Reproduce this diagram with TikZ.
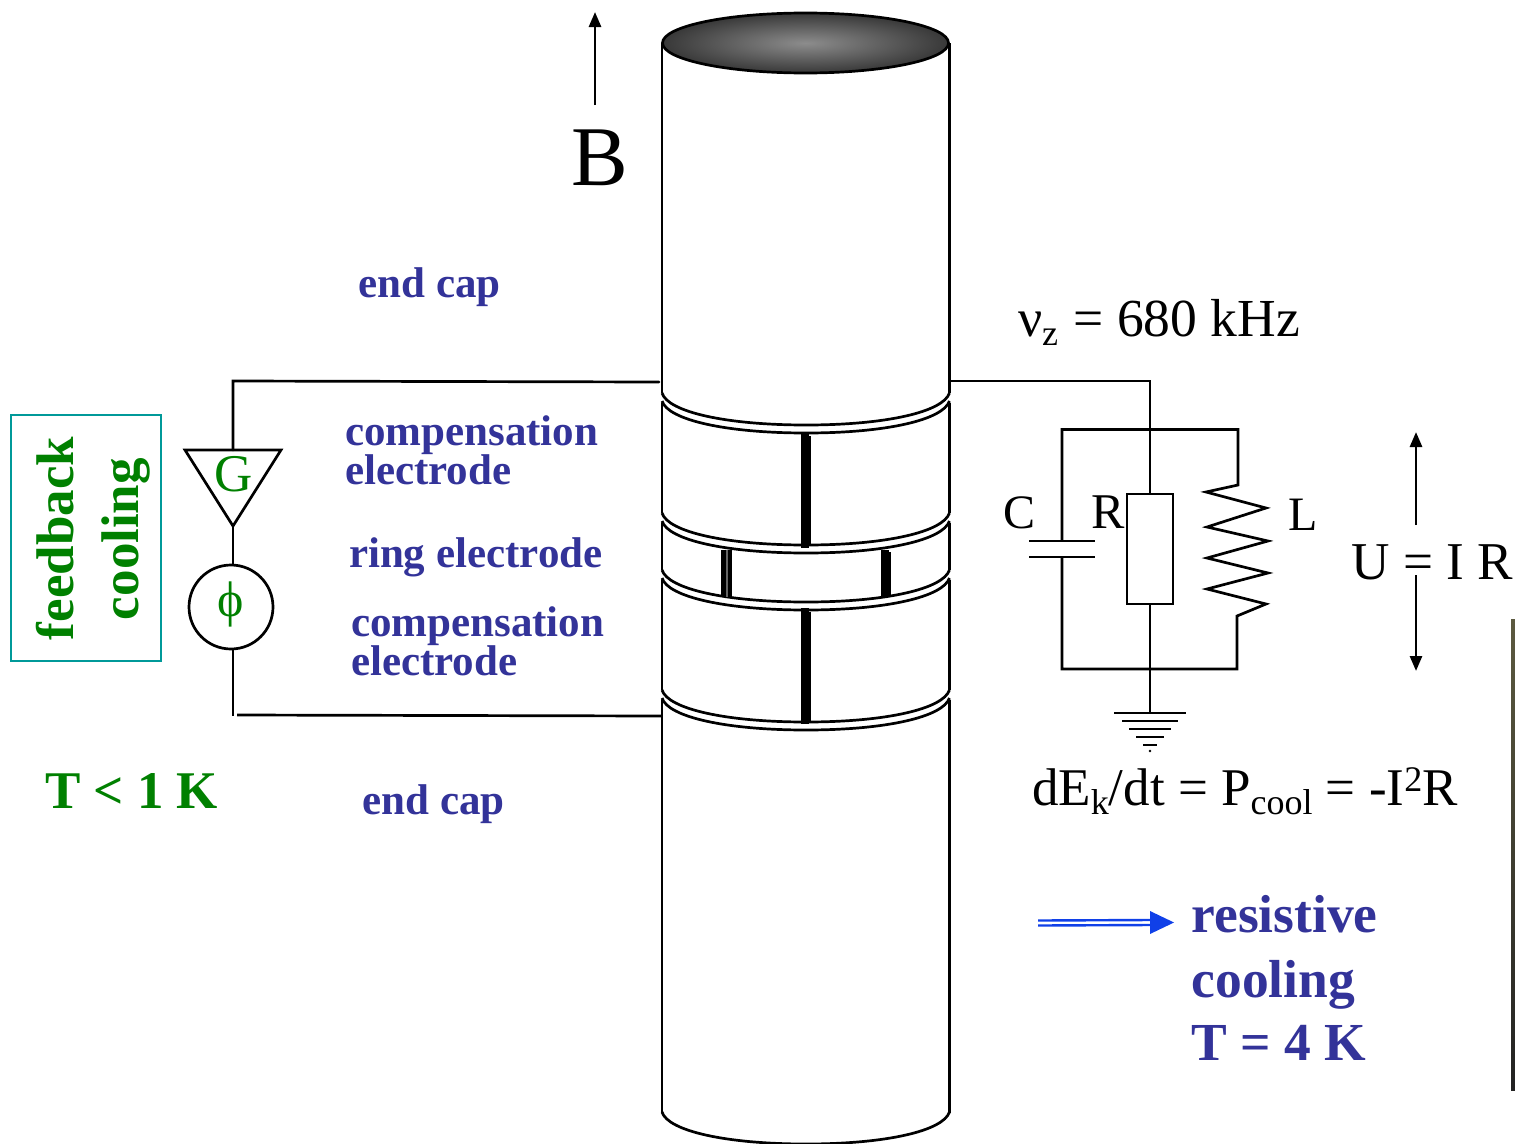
\documentclass[tikz,border=0pt]{standalone}
\usepackage{fontspec}
\setmainfont{Liberation Serif}
\usetikzlibrary{arrows.meta}
\definecolor{lblue}{HTML}{333399}
\definecolor{lgreen}{HTML}{008000}
\definecolor{lteal}{HTML}{009999}
\definecolor{arrowblue}{HTML}{1040E8}
\definecolor{stripa}{HTML}{5C5A40}
\definecolor{stripb}{HTML}{222222}
\newcommand{\fsz}[1]{\fontsize{#1}{#1}\selectfont}
\newcommand{\lowsub}[1]{\raisebox{-9pt}{\fsz{36}#1}}
\newcommand{\rimcurve}[1]{%
  \draw[wire] (662,#1) .. controls (668,#1+19) and (726,#1+32) .. (806,#1+32)
     .. controls (886,#1+32) and (943,#1+19) .. (949.5,#1);}
\tikzset{
  wire/.style={line width=2.7pt,line cap=butt,line join=miter},
  label/.style={inner sep=0pt,outer sep=0pt,anchor=base west},
  bluelabel/.style={label,font=\fsz{43}\bfseries,text=lblue},
  bigblue/.style={label,font=\fsz{53.5}\bfseries,text=lblue},
  greenlabel/.style={label,font=\fsz{53}\bfseries,text=lgreen},
  blacklabel/.style={label,font=\fsz{53.5}},
  partlabel/.style={label,font=\fsz{48}},
  arrowline/.style={wire,-{Triangle[length=15pt,width=12pt]}},
}
\begin{document}
\begin{tikzpicture}[x=1pt,y=-1pt]
\useasboundingbox (0,0) rectangle (1515,1143);
% right strip
\shade[top color=stripa,bottom color=stripb] (1511,619) rectangle (1515,1090);
% top ellipse
\shade[inner color=black!45,outer color=black!78] (805.5,43) ellipse [x radius=143,y radius=30];
\draw[wire] (805.5,43) ellipse [x radius=143,y radius=30];
% cylinder sides
\foreach \ya/\yb in {43/393,403/513,523/570,580/690,700/1113}{
  \draw[wire] (662,\ya) -- (662,\yb);
  \draw[wire] (949.5,\ya) -- (949.5,\yb);
}
% rims
\foreach \y in {393,401,513,521,570,578,690,698,1112}{\rimcurve{\y}}
% slits
\foreach \x/\ya/\yb in {805/432/548,805/608/724}{
  \draw[line width=7.5pt] (\x,\ya) -- (\x,\yb);
  \draw[line width=2.6pt] (\x+4.8,\ya+4) -- (\x+4.8,\yb-3);
}
\draw[line width=5pt] (723.5,550) -- (723.5,597);
\draw[line width=2pt,black!60] (727,550) -- (727,597);
\draw[line width=4pt] (729.5,550) -- (729.5,597);
\draw[line width=8pt] (884.5,550) -- (884.5,597);
\draw[line width=2.4pt] (889.5,552) -- (889.5,596);
% feedback branch
\coordinate (tl) at (233,381);
\coordinate (capTL) at (659,382);
\coordinate (tra) at (185,450);
\coordinate (trb) at (281,450);
\coordinate (trc) at (233,526);
\coordinate (trm) at (233,450);
\coordinate (bl) at (233,716);
\coordinate (blr) at (237,715);
\coordinate (capBL) at (662,716);
\node[draw,circle,line width=2.7pt,minimum size=84pt,inner sep=0pt,outer sep=0pt] (phi) at (231,607) {};
\node[inner sep=0pt,text=lgreen,font=\fsz{50}] (phitext) at (231,604) {ϕ};
\draw[wire,line cap=round] (capTL) -- (tl) -- (trm);
\draw[wire,line join=miter] (tra) -- (trb) -- (trc) -- cycle;
\draw[wire] (trc) -- (233,565);
\draw[wire] (233,649) -- (bl);
\draw[wire] (blr) -- (capBL);
\node[label,font=\fsz{53},text=lgreen] (gain) at (214,491) {G};
% feedback box
\node[draw=lteal,line width=2.7pt,minimum width=150pt,minimum height=246pt,inner sep=0pt,outer sep=0pt] (fbox) at (86,538) {};
\node[greenlabel,rotate=90] (fb) at (73,640) {feedback};
\node[greenlabel,rotate=90] (cl) at (138,620) {cooling};
\node[greenlabel] (tlow) at (45,808) {T < 1 K};
% electrode labels
\node[bluelabel] (ec1) at (358.5,297) {end cap};
\node[bluelabel] (ce1) at (345,445) {compensation};
\node[bluelabel] (ce1b) at (345,484) {electrode};
\node[bluelabel] (re) at (349,567) {ring electrode};
\node[bluelabel] (ce2) at (351,636) {compensation};
\node[bluelabel] (ce2b) at (351,675) {electrode};
\node[bluelabel] (ec2) at (362.5,814) {end cap};
% B
\coordinate (ba) at (595,105);
\coordinate (bb) at (595,12);
\draw[arrowline] (ba) -- (bb);
\node[label,font=\fsz{85}] (B) at (571,185) {B};
% RLC
\coordinate (capTR) at (951,381);
\coordinate (jc) at (1150,381);
\coordinate (tlc) at (1062,429.5);
\coordinate (trr) at (1238,429.5);
\coordinate (cpa) at (1062,541);
\coordinate (cpb) at (1062,557);
\coordinate (blc) at (1062,669);
\coordinate (brr) at (1237,669);
\coordinate (gnd) at (1150,713);
\node[draw,line width=2.7pt,minimum width=46pt,minimum height=110pt,inner sep=0pt,outer sep=0pt] (res) at (1150,549) {};
\draw[wire] (capTR) -- (jc) -- (res.north);
\draw[wire] (cpa) -- (tlc) -- (trr) -- (1238,485) -- (1206,492) -- (1266,508) -- (1207,527) -- (1268,541) -- (1207,558) -- (1268,573) -- (1207,589) -- (1266,604) -- (1237,616) -- (brr) -- (blc) -- (cpb);
\draw[wire] (1029,541) -- (1095,541);
\draw[wire] (1029,557) -- (1095,557);
\draw[wire] (res.south) -- (gnd);
\foreach \y/\w in {713/36,721/28,729/21,737/14,745/7}{
  \draw[wire] (1150-\w,\y) -- (1150+\w,\y);
}
\fill (1150,751) circle (1.4pt);
\node[partlabel] (C) at (1003,528) {C};
\node[partlabel,font=\fsz{50}] (R) at (1091,528) {R};
\node[partlabel] (L) at (1288,530) {L};
% voltage
\coordinate (ua) at (1416,525);
\coordinate (ub) at (1416,432);
\coordinate (uc) at (1416,575);
\coordinate (ud) at (1416,671);
\draw[arrowline] (ua) -- (ub);
\draw[arrowline] (uc) -- (ud);
\node[blacklabel,font=\fsz{53.2}] (U) at (1351.5,579) {U = I R};
\node[blacklabel] (nu) at (1018,336) {ν\lowsub{z}\hspace{2pt} = 680 kHz};
\node[blacklabel,font=\fsz{53}] (dE) at (1032,805) {dE\lowsub{k}/dt = P\lowsub{cool} = -I\raisebox{14pt}{\fsz{36}2}R};
% resistive cooling
\coordinate (rc) at (1174,922.5);
\draw[line width=2.4pt,arrowblue] (1038,920.5) -- (1151,920);
\draw[line width=2.4pt,arrowblue] (1038,925.5) -- (1151,925);
\fill[arrowblue] (1150,911) -- (rc) -- (1150,934) -- cycle;
\node[bigblue] (r1) at (1191.5,932) {resistive};
\node[bigblue] (r2) at (1191.5,997) {cooling};
\node[bigblue] (r3) at (1191.5,1060) {T = 4 K};
\end{tikzpicture}
\end{document}
